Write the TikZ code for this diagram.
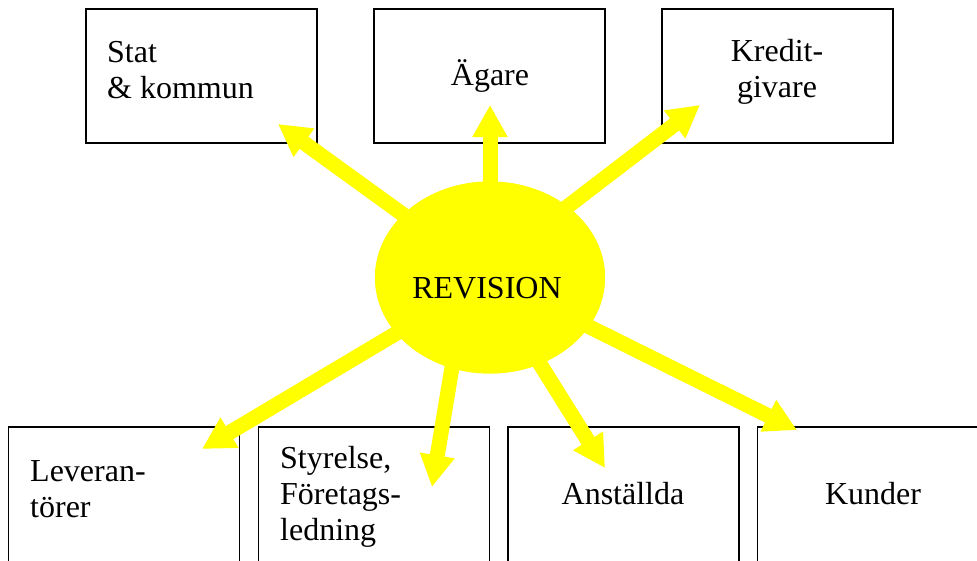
\documentclass[tikz,border=0pt]{standalone}
\usepackage{fontspec}
\setmainfont{Liberation Serif}
\usetikzlibrary{shapes.geometric,arrows.meta}
\definecolor{revyellow}{RGB}{255,255,0}
\tikzset{
  party/.style={draw=black, line width=1.6pt, fill=white, minimum width=231pt, inner sep=0pt},
  label/.style={font=\fontsize{32}{36}\selectfont, inner sep=0pt, align=left},
  ray/.style={draw=revyellow, line width=15pt, -{Triangle[width=33pt,length=32pt]}},
}
\begin{document}
\begin{tikzpicture}[x=1pt, y=-1pt]
  \useasboundingbox (0,0) rectangle (977,560);
  \clip (0,0) rectangle (977,560);

  % boxes for the interested parties
  \node[party, minimum height=134pt] (stat)   at (201.5,76) {};
  \node[party, minimum height=134pt] (agare)  at (489.5,76) {};
  \node[party, minimum height=134pt] (kredit) at (777.5,76) {};
  \node[party, minimum height=173pt] (lev)    at (124,513.5) {};
  \node[party, minimum height=173pt] (sty)    at (374,513.5) {};
  \node[party, minimum height=173pt] (ans)    at (623.5,513.5) {};
  \node[party, minimum height=173pt] (kun)    at (873,513.5) {};

  % centre of the audit
  \node[ellipse, fill=revyellow, minimum width=230pt, minimum height=192pt, inner sep=0pt] (rev) at (490,277.5) {};

  % arrow tips
  \coordinate (tStat)   at (278,124);
  \coordinate (tAgare)  at (490,105);
  \coordinate (tKredit) at (700,105);
  \coordinate (tLev)    at (202,449);
  \coordinate (tSty)    at (432,487);
  \coordinate (tAns)    at (605,468);
  \coordinate (tKun)    at (797,430);

  \draw[ray] (rev.center) -- (tStat);
  \draw[ray] (rev.center) -- (tAgare);
  \draw[ray] ([xshift=-15pt]rev.center) -- (tKredit);
  \draw[ray] (rev.center) -- (tLev);
  \draw[ray] ([xshift=-23pt]rev.center) -- (tSty);
  \draw[ray] ([xshift=-4pt]rev.center) -- (tAns);
  \draw[ray] (rev.center) -- (tKun);

  % redraw the ellipse over the ray shafts
  \fill[revyellow] (rev.center) ellipse [x radius=115pt, y radius=96pt];

  % texts (multi-line labels are anchored on their last baseline)
  \node[label, anchor=base west] (lStat) at (107,98) {Stat\\\& kommun};
  \node[label, anchor=base] (lAgare) at (490,85) {Ägare};
  \node[label, anchor=base, align=center] (lKredit) at (777,97) {Kredit-\\givare};
  \node[label, anchor=base west] (lLev) at (30,517) {Leveran-\\törer};
  \node[label, anchor=base west] (lSty) at (280,540) {Styrelse,\\Företags-\\ledning};
  \node[label, anchor=base] (lAns) at (623,504) {Anställda};
  \node[label, anchor=base] (lKun) at (873,504) {Kunder};
  \node[label, anchor=base] (lRev) at (487,298) {REVISION};
\end{tikzpicture}
\end{document}
